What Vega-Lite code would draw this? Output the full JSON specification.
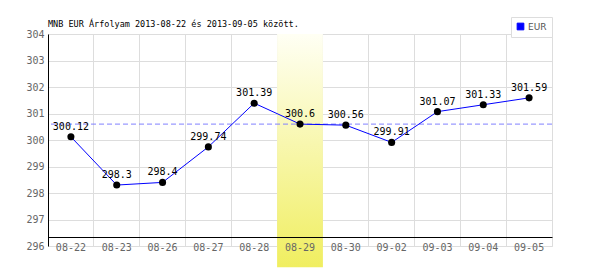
{
  "$schema": "https://vega.github.io/schema/vega-lite/v6.json",
  "width": 504,
  "height": 212,
  "autosize": {"type": "none"},
  "padding": {"left": 48, "top": 34, "right": 48, "bottom": 24},
  "background": "white",
  "title": {
    "text": "MNB EUR Árfolyam 2013-08-22 és 2013-09-05 között.",
    "anchor": "start",
    "frame": "group",
    "font": "DejaVu Sans Mono",
    "fontSize": 8.5,
    "fontWeight": "normal",
    "color": "#000000",
    "offset": -9,
    "dy": 3
  },
  "config": {
    "view": {"stroke": "#dddddd", "strokeWidth": 1},
    "axis": {"labelFont": "DejaVu Sans Mono", "labelFontSize": 10, "labelColor": "#666666", "gridColor": "#dddddd", "gridOpacity": 1}
  },
  "resolve": {"axis": {"x": "independent", "y": "independent"}},
  "data": {
    "values": [
      {"date": "08-22", "rate": 300.12, "currency": "EUR"},
      {"date": "08-23", "rate": 298.3, "currency": "EUR"},
      {"date": "08-26", "rate": 298.4, "currency": "EUR"},
      {"date": "08-27", "rate": 299.74, "currency": "EUR"},
      {"date": "08-28", "rate": 301.39, "currency": "EUR"},
      {"date": "08-29", "rate": 300.6, "currency": "EUR"},
      {"date": "08-30", "rate": 300.56, "currency": "EUR"},
      {"date": "09-02", "rate": 299.91, "currency": "EUR"},
      {"date": "09-03", "rate": 301.07, "currency": "EUR"},
      {"date": "09-04", "rate": 301.33, "currency": "EUR"},
      {"date": "09-05", "rate": 301.59, "currency": "EUR"}
    ]
  },
  "layer": [
    {
      "transform": [{"filter": "datum.date == '08-29'"}],
      "mark": {
        "type": "rect",
        "clip": false,
        "color": {
          "gradient": "linear", "x1": 0, "y1": 0, "x2": 0, "y2": 1,
          "stops": [{"offset": 0, "color": "#fffff4"}, {"offset": 1, "color": "#f0ee60"}]
        }
      },
      "encoding": {
        "x": {
          "field": "date", "type": "ordinal",
          "scale": {"domain": ["08-22","08-23","08-26","08-27","08-28","08-29","08-30","09-02","09-03","09-04","09-05"], "paddingInner": 0, "paddingOuter": 0},
          "axis": {"orient": "bottom", "grid": true, "labels": false, "ticks": false, "domain": false, "title": null, "bandPosition": 0, "zindex": 0}
        },
        "y": {
          "datum": 304, "type": "quantitative",
          "scale": {"domain": [296, 304], "nice": false, "zero": false},
          "axis": {"orient": "left", "grid": true, "labels": false, "ticks": false, "domain": false, "title": null, "values": [296,297,298,299,300,301,302,303,304], "zindex": 0}
        },
        "y2": {"datum": 295.2}
      }
    },
    {
      "transform": [{"filter": "datum.date == '08-29'"}],
      "mark": {"type": "rule", "color": "#8080ff", "strokeWidth": 1, "strokeDash": [5, 3]},
      "encoding": {
        "y": {"field": "rate", "type": "quantitative", "axis": null}
      }
    },
    {
      "mark": {"type": "line", "strokeWidth": 1},
      "encoding": {
        "x": {
          "field": "date", "type": "ordinal",
          "axis": {"orient": "bottom", "grid": false, "ticks": false, "domain": true, "domainColor": "#000000", "offset": -9, "labelPadding": 5, "labelAngle": 0, "title": null, "zindex": 1}
        },
        "y": {
          "field": "rate", "type": "quantitative",
          "axis": {"orient": "left", "grid": false, "ticks": false, "domain": true, "domainColor": "#000000", "labelPadding": 4, "values": [296,297,298,299,300,301,302,303,304], "title": null, "zindex": 1}
        },
        "color": {
          "field": "currency", "type": "nominal",
          "scale": {"range": ["#0000ff"]},
          "legend": {
            "title": null,
            "orient": "none",
            "legendX": 463,
            "legendY": -17,
            "direction": "vertical",
            "padding": 5,
            "strokeColor": "#dddddd",
            "fillColor": "#ffffff",
            "symbolType": "square",
            "symbolSize": 45,
            "labelFont": "DejaVu Sans",
            "labelFontSize": 9,
            "labelColor": "#555555",
            "labelOffset": 3,
            "encode": {"symbols": {"update": {"fill": {"value": "#0000ff"}, "stroke": {"value": "#444444"}, "strokeWidth": {"value": 1}}}}
          }
        }
      }
    },
    {
      "mark": {"type": "circle", "color": "#000000", "opacity": 1, "size": 50},
      "encoding": {
        "x": {"field": "date", "type": "ordinal", "axis": null},
        "y": {"field": "rate", "type": "quantitative", "axis": null}
      }
    },
    {
      "mark": {"type": "text", "font": "DejaVu Sans Mono", "fontSize": 10, "color": "#000000", "dy": -10},
      "encoding": {
        "x": {"field": "date", "type": "ordinal", "axis": null},
        "y": {"field": "rate", "type": "quantitative", "axis": null},
        "text": {"field": "rate", "type": "quantitative"}
      }
    }
  ]
}
